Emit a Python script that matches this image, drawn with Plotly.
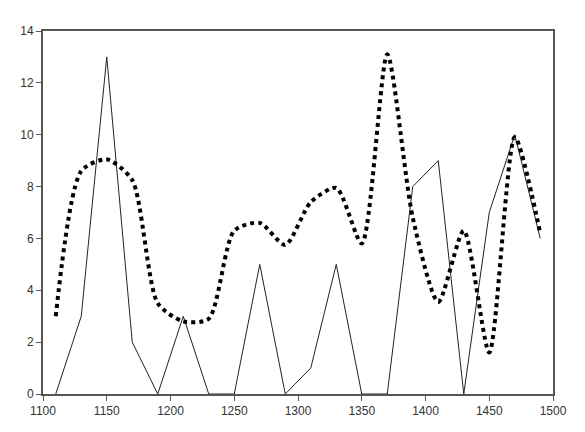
import plotly.graph_objects as go

years = [1110, 1130, 1150, 1170, 1190, 1210, 1230, 1250, 1270, 1290,
         1310, 1330, 1350, 1370, 1390, 1410, 1430, 1450, 1470, 1490]
solid_values = [0, 3, 13, 2, 0, 3, 0, 0, 5, 0,
                1, 5, 0, 0, 8, 9, 0, 7, 10, 6]
dotted_values = [3, 8.6, 9.05, 8.25, 3.5, 2.8, 2.9, 6.3, 6.6, 5.75,
                 7.4, 7.95, 5.8, 13.1, 6.8, 3.55, 6.3, 1.6, 9.9, 6.2]
x_ticks = [1100, 1150, 1200, 1250, 1300, 1350, 1400, 1450, 1500]
y_ticks = [0, 2, 4, 6, 8, 10, 12, 14]

fig = go.Figure()
fig.add_trace(go.Scatter(x=years, y=solid_values, mode="lines",
                         line=dict(color="#222222", width=1)))
fig.add_trace(go.Scatter(x=years, y=dotted_values, mode="lines",
                         line=dict(color="#000000", width=4, dash="dot",
                                   shape="spline", smoothing=0.7)))

axis_common = dict(showgrid=False, zeroline=False, showline=True, mirror=True,
                   linecolor="#555555", linewidth=2, ticks="outside",
                   ticklen=5, tickcolor="#555555",
                   tickfont=dict(family="Liberation Sans, Arial", size=12, color="#333333"))
fig.update_xaxes(range=[1100, 1500], tickvals=x_ticks, **axis_common)
fig.update_yaxes(range=[0, 14], tickvals=y_ticks, **axis_common)

fig.update_layout(width=585, height=432, showlegend=False,
                  plot_bgcolor="white", paper_bgcolor="white",
                  margin=dict(l=25, r=40, t=23, b=46))
fig.write_html("out.html")
